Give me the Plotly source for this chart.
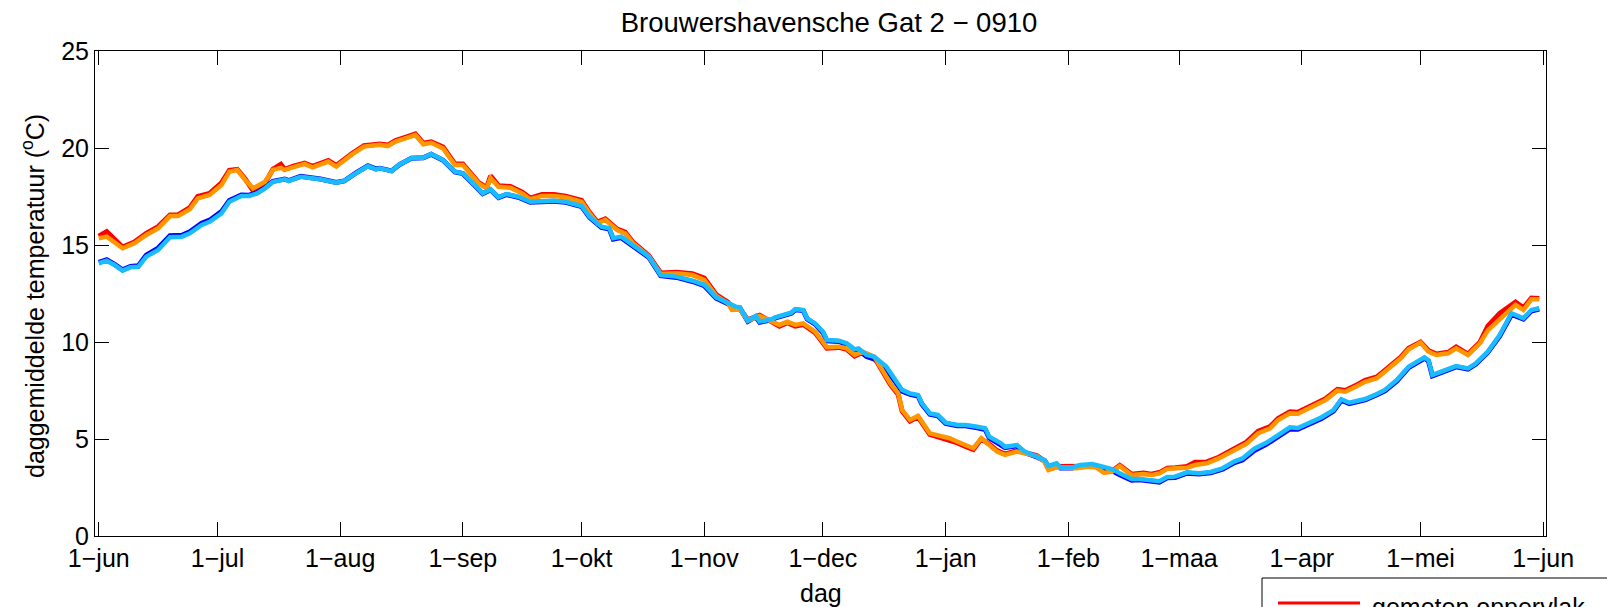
import pandas as pd
import plotly.graph_objects as go

# Season starts on 1 June 2009; all day offsets below count from this date.
SEIZOEN_START = pd.Timestamp("2009-06-01")

# Surface series (measured / computed), day offsets and daily mean temperature (degC)
dagen_opp = [
    0, 2, 6, 9, 12, 15, 18, 20, 23, 25,
    28, 31, 33, 35, 37, 39, 42, 44, 46, 47,
    49, 52, 54, 56, 58, 60, 62, 64, 67, 69,
    71, 73, 75, 78, 80, 82, 84, 87, 90, 92,
    93, 96, 98, 99, 101, 104, 107, 109, 112, 115,
    118, 122, 124, 126, 128, 131, 133, 135, 139, 142,
    146, 150, 153, 156, 159, 160, 162, 164, 167, 170,
    172, 174, 176, 178, 181, 182, 184, 187, 189, 191,
    193, 196, 198, 200, 202, 203, 205, 207, 210, 213,
    215, 217, 219, 221, 223, 225, 227, 229, 232, 234,
    237, 239, 240, 242, 245, 247, 250, 252, 254, 256,
    258, 260, 261, 264, 266, 268, 270, 272, 275, 277,
    280, 283, 287, 290, 293, 296, 298, 301, 303, 307,
    310, 313, 315, 318, 320, 323, 325, 329, 331, 334,
    336, 338, 341, 343, 346, 349, 351, 354, 358, 360,
    362, 364,
]
gemeten_opp = [
    15.45, 15.69, 14.9, 15.15, 15.6, 15.95, 16.55, 16.55, 16.92, 17.5,
    17.66, 18.2, 18.85, 18.9, 18.4, 17.8, 18.2, 18.9, 19.16, 18.9,
    19.05, 19.22, 19.05, 19.2, 19.35, 19.1, 19.42, 19.72, 20.12, 20.14,
    20.2, 20.15, 20.38, 20.58, 20.72, 20.25, 20.32, 20.05, 19.18, 19.18,
    18.92, 18.22, 17.96, 18.56, 18.06, 18.02, 17.72, 17.42, 17.6, 17.6,
    17.52, 17.3, 16.68, 16.18, 16.35, 15.82, 15.66, 15.14, 14.45, 13.56,
    13.6, 13.52, 13.3, 12.45, 12.05, 11.7, 11.72, 11.14, 11.38, 11.0,
    10.82, 11.0, 10.82, 10.9, 10.48, 10.22, 9.68, 9.72, 9.62, 9.28,
    9.46, 9.2, 8.52, 7.82, 7.3, 6.44, 5.92, 6.14, 5.24, 5.06,
    4.98, 4.8, 4.62, 4.46, 5.0, 4.74, 4.4, 4.22, 4.4, 4.3,
    4.14, 3.86, 3.45, 3.58, 3.6, 3.55, 3.6, 3.58, 3.3, 3.34,
    3.64, 3.34, 3.18, 3.24, 3.18, 3.27, 3.5, 3.52, 3.58, 3.8,
    3.82, 4.06, 4.52, 4.84, 5.4, 5.64, 6.06, 6.4, 6.38, 6.75,
    7.08, 7.56, 7.5, 7.8, 8.02, 8.2, 8.56, 9.22, 9.68, 10.0,
    9.56, 9.38, 9.47, 9.74, 9.38, 9.98, 10.82, 11.48, 12.06, 11.76,
    12.26, 12.24,
]
berekend_opp = [
    15.35, 15.43, 14.83, 15.09, 15.52, 15.86, 16.49, 16.49, 16.84, 17.4,
    17.58, 18.09, 18.78, 18.87, 18.35, 17.92, 18.26, 18.87, 18.98, 18.87,
    19.0, 19.18, 19.0, 19.16, 19.3, 19.04, 19.38, 19.67, 20.07, 20.1,
    20.17, 20.1, 20.33, 20.53, 20.67, 20.19, 20.27, 19.98, 19.12, 19.12,
    18.87, 18.18, 17.92, 18.45, 18.0, 17.95, 17.66, 17.36, 17.53, 17.53,
    17.46, 17.23, 16.63, 16.12, 16.29, 15.77, 15.6, 15.09, 14.4, 13.51,
    13.54, 13.45, 13.2, 12.38, 11.99, 11.65, 11.69, 11.1, 11.34, 11.05,
    10.88, 11.05, 10.88, 10.96, 10.53, 10.27, 9.73, 9.76, 9.67, 9.33,
    9.5, 9.24, 8.56, 7.87, 7.35, 6.49, 5.98, 6.19, 5.29, 5.12,
    5.04, 4.86, 4.69, 4.52, 5.04, 4.69, 4.35, 4.18, 4.35, 4.26,
    4.12, 3.83, 3.4, 3.54, 3.54, 3.49, 3.57, 3.54, 3.26, 3.31,
    3.61, 3.31, 3.14, 3.2, 3.14, 3.23, 3.46, 3.49, 3.52, 3.66,
    3.75, 4.0, 4.43, 4.75, 5.3, 5.55, 5.98, 6.32, 6.3, 6.67,
    7.01, 7.49, 7.44, 7.73, 7.95, 8.13, 8.47, 9.16, 9.62, 9.97,
    9.5, 9.33, 9.42, 9.67, 9.33, 9.93, 10.6, 11.13, 11.91, 11.65,
    12.2, 12.2,
]

# Bottom series (measured / computed)
dagen_bod = [
    0, 2, 4, 6, 8, 10, 12, 15, 18, 21,
    23, 26, 28, 31, 33, 36, 38, 40, 42, 44,
    47, 48, 51, 54, 56, 60, 62, 65, 68, 70,
    71, 74, 76, 79, 82, 84, 87, 90, 92, 95,
    97, 99, 101, 103, 106, 109, 112, 115, 118, 122,
    124, 127, 129, 130, 132, 135, 139, 142, 146, 150,
    153, 156, 159, 161, 162, 164, 166, 167, 170, 171,
    173, 175, 176, 178, 179, 181, 183, 184, 187, 189,
    191, 192, 194, 196, 199, 201, 203, 205, 207, 208,
    210, 212, 214, 217, 219, 222, 224, 225, 228, 229,
    232, 234, 237, 239, 240, 242, 243, 246, 248, 251,
    253, 256, 258, 261, 263, 266, 268, 270, 272, 275,
    278, 281, 284, 287, 289, 292, 295, 298, 301, 303,
    307, 309, 312, 314, 316, 319, 320, 323, 325, 328,
    331, 335, 336, 337, 340, 341, 343, 346, 348, 351,
    354, 357, 360, 362, 364,
]
gemeten_bod = [
    14.1, 14.24, 14.0, 13.72, 13.9, 13.93, 14.48, 14.84, 15.48, 15.5,
    15.68, 16.12, 16.28, 16.72, 17.3, 17.58, 17.57, 17.7, 17.95, 18.28,
    18.4, 18.32, 18.54, 18.46, 18.4, 18.22, 18.3, 18.72, 19.08, 18.92,
    18.96, 18.82, 19.15, 19.47, 19.5, 19.68, 19.37, 18.76, 18.68, 18.07,
    17.64, 17.85, 17.44, 17.6, 17.46, 17.2, 17.25, 17.25, 17.2, 16.98,
    16.43, 15.9, 15.82, 15.3, 15.38, 14.95, 14.36, 13.42, 13.33, 13.12,
    12.9, 12.26, 11.95, 11.78, 11.75, 11.06, 11.3, 11.02, 11.14, 11.24,
    11.36, 11.48, 11.66, 11.62, 11.18, 10.92, 10.48, 10.06, 10.03, 9.88,
    9.57, 9.6, 9.25, 9.12, 8.6, 8.02, 7.46, 7.3, 7.22, 6.8,
    6.28, 6.2, 5.8, 5.68, 5.68, 5.58, 5.48, 5.06, 4.72, 4.55,
    4.65, 4.3, 4.08, 3.88, 3.58, 3.7, 3.5, 3.5, 3.6, 3.65,
    3.55, 3.38, 3.16, 2.88, 2.9, 2.8, 2.78, 3.0, 3.02, 3.24,
    3.2, 3.26, 3.44, 3.78, 3.92, 4.4, 4.72, 5.12, 5.52, 5.5,
    5.88, 6.06, 6.44, 7.0, 6.82, 6.96, 7.02, 7.28, 7.48, 7.98,
    8.68, 9.16, 9.02, 8.25, 8.48, 8.55, 8.72, 8.6, 8.86, 9.46,
    10.3, 11.42, 11.18, 11.6, 11.7,
]
berekend_bod = [
    14.06, 14.19, 13.97, 13.68, 13.85, 13.88, 14.4, 14.74, 15.4, 15.43,
    15.6, 16.03, 16.2, 16.63, 17.23, 17.53, 17.53, 17.66, 17.92, 18.26,
    18.39, 18.3, 18.52, 18.44, 18.39, 18.21, 18.3, 18.7, 19.07, 18.9,
    18.95, 18.81, 19.15, 19.47, 19.5, 19.69, 19.38, 18.78, 18.7, 18.09,
    17.66, 17.87, 17.46, 17.63, 17.49, 17.23, 17.28, 17.28, 17.23, 17.01,
    16.46, 15.94, 15.86, 15.35, 15.43, 15.0, 14.4, 13.45, 13.37, 13.16,
    12.95, 12.3, 11.99, 11.82, 11.79, 11.1, 11.34, 11.05, 11.17, 11.27,
    11.39, 11.51, 11.69, 11.65, 11.22, 10.96, 10.53, 10.1, 10.07, 9.93,
    9.62, 9.67, 9.33, 9.24, 8.73, 8.13, 7.53, 7.35, 7.27, 6.84,
    6.32, 6.24, 5.84, 5.72, 5.72, 5.63, 5.55, 5.12, 4.78, 4.6,
    4.69, 4.35, 4.12, 3.92, 3.61, 3.75, 3.54, 3.54, 3.66, 3.71,
    3.61, 3.45, 3.23, 2.94, 2.94, 2.85, 2.82, 3.04, 3.06, 3.28,
    3.24, 3.3, 3.49, 3.85, 4.0, 4.5, 4.8, 5.2, 5.6, 5.57,
    5.94, 6.12, 6.49, 7.05, 6.87, 7.01, 7.06, 7.32, 7.53, 8.04,
    8.73, 9.21, 9.07, 8.3, 8.52, 8.59, 8.76, 8.64, 8.9, 9.5,
    10.36, 11.48, 11.22, 11.65, 11.74,
]

maand_labels = ["1\u2212jun", "1\u2212jul", "1\u2212aug", "1\u2212sep", "1\u2212okt",
                "1\u2212nov", "1\u2212dec", "1\u2212jan", "1\u2212feb", "1\u2212maa",
                "1\u2212apr", "1\u2212mei", "1\u2212jun"]
y_ticks = [0, 5, 10, 15, 20, 25]


def naar_datum(dagen):
    return SEIZOEN_START + pd.to_timedelta(dagen, unit="D")


W, H = 1607, 607
ML, MR, MT, MB = 95, 61, 51, 71
PW, PH = W - ML - MR, H - MT - MB
FONT = "Liberation Sans, Arial, Helvetica, sans-serif"
FS = 25


def px_x(px):
    return (px - ML) / PW


def px_y(py):
    return (H - MB - py) / PH


reeksen = [
    ("gemeten oppervlak", dagen_opp, gemeten_opp, "#ff0000", 5.0),
    ("gemeten bodem", dagen_bod, gemeten_bod, "#0000ff", 5.0),
    ("berekend oppervlak", dagen_opp, berekend_opp, "#ff9600", 4.5),
    ("berekend bodem", dagen_bod, berekend_bod, "#19bdff", 4.5),
]

fig = go.Figure()
for naam, dagen, waarden, kleur, dikte in reeksen:
    fig.add_trace(go.Scatter(
        x=naar_datum(dagen), y=waarden, mode="lines", name=naam,
        line=dict(color=kleur, width=dikte), showlegend=False,
    ))

maand_starts = pd.date_range("2009-06-01", "2010-06-01", freq="MS")

as_stijl = dict(
    showline=True, linecolor="black", linewidth=1, mirror="ticks",
    ticks="inside", ticklen=14, tickwidth=1, tickcolor="black",
    showgrid=False, zeroline=False,
    tickfont=dict(family=FONT, size=FS, color="black"),
)

fig.update_xaxes(
    type="date",
    range=["2009-05-31 01:00", "2010-06-01 17:00"],
    tickmode="array", tickvals=maand_starts, ticktext=maand_labels,
    **as_stijl,
)
fig.update_yaxes(range=[0, 25], tickmode="array", tickvals=y_ticks, **as_stijl)

# Legend box in the lower right corner (only its top row fits on the page)
legenda_y = 603
vormen = [
    dict(type="rect", xref="paper", yref="paper",
         x0=px_x(1262), x1=px_x(1720), y0=px_y(660), y1=px_y(578),
         line=dict(color="black", width=1), fillcolor="white", layer="above"),
    dict(type="line", xref="paper", yref="paper",
         x0=px_x(1278), x1=px_x(1360), y0=px_y(legenda_y), y1=px_y(legenda_y),
         line=dict(color=reeksen[0][3], width=3), layer="above"),
]
teksten = [
    dict(text=reeksen[0][0], xref="paper", yref="paper",
         x=px_x(1370), y=px_y(legenda_y + 4), xanchor="left", yanchor="middle",
         showarrow=False, font=dict(family=FONT, size=FS, color="black")),
]

# Axis titles
teksten.append(dict(text="dag", xref="paper", yref="paper",
                    x=px_x(820.5), y=px_y(593), xanchor="center", yanchor="middle",
                    showarrow=False, font=dict(family=FONT, size=FS, color="black")))
teksten.append(dict(text="daggemiddelde temperatuur (<sup>o</sup>C)", xref="paper", yref="paper",
                    x=px_x(33), y=px_y(296), xanchor="center", yanchor="middle",
                    textangle=-90, showarrow=False,
                    font=dict(family=FONT, size=FS, color="black")))

fig.update_layout(
    width=W, height=H,
    margin=dict(l=ML, r=MR, t=MT, b=MB, autoexpand=False),
    paper_bgcolor="white", plot_bgcolor="white",
    title=dict(text="Brouwershavensche Gat 2 \u2212 0910", x=px_x(829), xref="paper",
               y=1 - 22.5 / H, yref="container", xanchor="center", yanchor="middle",
               font=dict(family=FONT, size=27.5, color="black")),
    shapes=vormen, annotations=teksten,
    showlegend=False,
)

fig.write_html("out.html")
